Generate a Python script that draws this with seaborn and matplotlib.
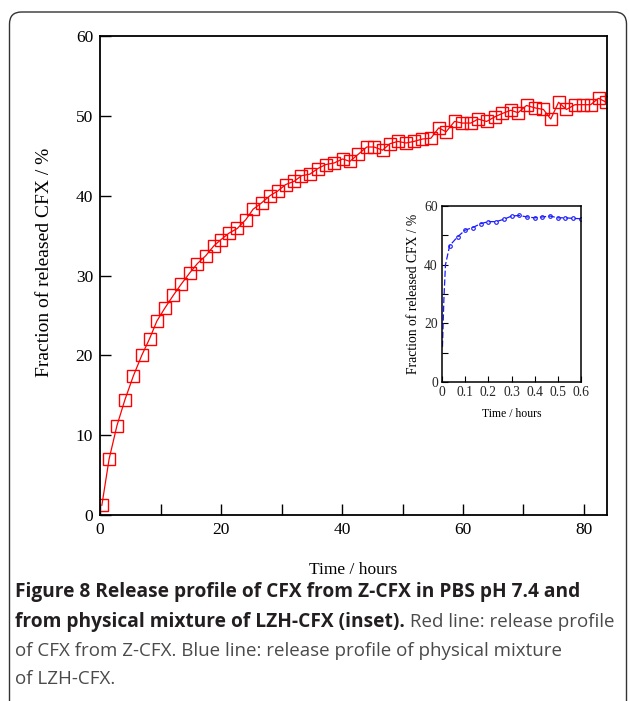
import numpy as np
import pandas as pd
import matplotlib
matplotlib.use("Agg")
import matplotlib.pyplot as plt
from matplotlib.patches import FancyBboxPatch
from matplotlib.ticker import MultipleLocator
import seaborn as sns

# ---- data ----
red_t = [0.3, 1.5, 2.8, 4.1, 5.5, 6.9, 8.2, 9.4, 10.7, 12.1, 13.4, 14.8, 16.1, 17.5,
         18.8, 20.0, 21.3, 22.7, 24.1, 25.3, 26.7, 28.1, 29.4, 30.7, 32.1, 33.3, 34.7,
         36.0, 37.3, 38.7, 40.1, 41.3, 42.7, 44.1, 45.3, 46.7, 47.9, 49.2, 50.6, 51.9,
         53.3, 54.7, 56.0, 57.2, 58.6, 59.9, 61.3, 62.5, 63.9, 65.3, 66.5, 67.9, 69.1,
         70.5, 71.9, 73.3, 74.5, 75.8, 77.1, 78.5, 79.9, 81.1, 82.4, 83.7]
red_v = [1.2, 7.0, 11.2, 14.4, 17.4, 20.0, 22.1, 24.3, 25.9, 27.5, 28.9, 30.3, 31.5, 32.5,
         33.7, 34.5, 35.3, 35.9, 37.0, 38.3, 39.1, 40.0, 40.6, 41.4, 41.8, 42.5, 42.7,
         43.4, 43.9, 44.1, 44.6, 44.3, 45.2, 46.1, 46.1, 45.7, 46.5, 46.8, 46.6, 46.8,
         47.1, 47.2, 48.5, 48.0, 49.3, 49.1, 49.1, 49.6, 49.3, 49.9, 50.3, 50.7, 50.4,
         51.3, 51.0, 50.8, 49.6, 51.7, 50.8, 51.4, 51.4, 51.4, 52.2, 51.7]

blue_t = [0.002, 0.008, 0.015, 0.033, 0.067, 0.100, 0.133, 0.167, 0.200, 0.233, 0.267,
          0.300, 0.333, 0.367, 0.400, 0.433, 0.467, 0.500, 0.533, 0.567, 0.600]
blue_v = [12.0, 28.0, 40.0, 46.5, 49.5, 51.8, 52.7, 54.0, 54.7, 54.7, 55.5,
          56.6, 56.8, 56.3, 56.0, 56.3, 56.6, 56.0, 56.0, 55.8, 55.7]

main_xticks = [0, 20, 40, 60, 80]
main_yticks = [0, 10, 20, 30, 40, 50, 60]
inset_xticks = [0, 0.1, 0.2, 0.3, 0.4, 0.5, 0.6]
inset_xticklabels = ["0", "0.1", "0.2", "0.3", "0.4", "0.5", "0.6"]
inset_yticks = [0, 20, 40, 60]

xlabel = "Time / hours"
ylabel = "Fraction of released CFX / %"
cap_bold1 = "Figure 8 Release profile of CFX from Z-CFX in PBS pH 7.4 and"
cap_bold2 = "from physical mixture of LZH-CFX (inset)."
cap_reg2 = " Red line: release profile"
cap_reg3 = "of CFX from Z-CFX. Blue line: release profile of physical mixture"
cap_reg4 = "of LZH-CFX."

red_df = pd.DataFrame({"t": red_t, "v": red_v})
blue_df = pd.DataFrame({"t": blue_t, "v": blue_v})

sns.set_theme(style="ticks")
plt.rcParams["font.family"] = ["Liberation Serif", "DejaVu Serif"]

fig = plt.figure(figsize=(6.29, 7.01), dpi=100)

# ---- main axes ----
ax = fig.add_axes([0.159, 0.2653, 0.806, 0.6833])
sns.lineplot(data=red_df, x="t", y="v", ax=ax, color="#ff0000", linewidth=0.9,
             marker="s", markersize=8.3, markerfacecolor="none",
             markeredgecolor="#ff0000", markeredgewidth=1.0, sort=False)
ax.set_xlim(0, 83.8)
ax.set_ylim(0, 60)
ax.set_xticks(main_xticks)
ax.set_yticks(main_yticks)
ax.xaxis.set_minor_locator(MultipleLocator(10))
ax.tick_params(axis="both", which="both", direction="in", top=False, right=False,
               color="black", width=1.0)
ax.tick_params(axis="both", which="major", length=8, labelsize=12.5, pad=5)
ax.tick_params(axis="x", which="minor", length=8)
for s in ax.spines.values():
    s.set_linewidth(1.3)
    s.set_color("black")
ax.set_xlabel(xlabel, fontsize=12.5, color="black")
ax.set_ylabel(ylabel, fontsize=14, color="black")
ax.xaxis.set_label_coords(0.5, -0.098)
ax.yaxis.set_label_coords(-0.092, 0.528)
for lab in ax.get_xticklabels() + ax.get_yticklabels():
    lab.set_color("black")

# ---- inset ----
ins = fig.add_axes([0.7027, 0.455, 0.221, 0.251])
sns.lineplot(data=blue_df, x="t", y="v", ax=ins, color="#1a1aff", linewidth=0.9,
             linestyle=(0, (5, 2)), marker="o", markersize=2.6,
             markerfacecolor="none", markeredgecolor="#1a1aff", markeredgewidth=0.8,
             markevery=list(range(3, len(blue_t))), sort=False)
ins.set_xlim(0, 0.6)
ins.set_ylim(0, 60)
ins.set_xticks(inset_xticks)
ins.set_xticklabels(inset_xticklabels)
ins.set_yticks(inset_yticks)
ins.yaxis.set_minor_locator(MultipleLocator(10))
ins.tick_params(axis="both", which="both", direction="in", top=False, right=False,
                color="black", width=0.8)
ins.tick_params(axis="both", which="major", length=4, labelsize=9.8, pad=3)
ins.tick_params(axis="y", which="minor", length=4)
for s in ins.spines.values():
    s.set_linewidth(1.1)
    s.set_color("black")
ins.set_xlabel(xlabel, fontsize=8.5, labelpad=6, color="black")
ins.set_ylabel(ylabel, fontsize=9.8, labelpad=3, color="black")

# ---- rounded frame ----
frame = FancyBboxPatch((9.5, -40), 617, 701 - 12 + 40,
                       boxstyle="round,pad=0,rounding_size=12",
                       transform=None, fill=False, edgecolor="#333333",
                       linewidth=1.0)
fig.patches.append(frame)

# ---- caption ----
cap_font = ["Open Sans", "DejaVu Sans"]
bold_col = "#231f20"
reg_col = "#4a4a4a"
fs_b = 13.8
fs_r = 13.5
fig.text(15 / 629, 1 - 592 / 701, cap_bold1, family=cap_font, fontsize=fs_b,
         fontweight="bold", color=bold_col, va="center", ha="left")
t2 = fig.text(15 / 629, 1 - 622 / 701, cap_bold2, family=cap_font, fontsize=fs_b,
              fontweight="bold", color=bold_col, va="center", ha="left")
fig.canvas.draw()
bb = t2.get_window_extent(renderer=fig.canvas.get_renderer())
fig.text(bb.x1 / fig.bbox.width, 1 - 622 / 701, cap_reg2, family=cap_font,
         fontsize=fs_r, color=reg_col, va="center", ha="left")
fig.text(15 / 629, 1 - 651 / 701, cap_reg3, family=cap_font, fontsize=fs_r,
         color=reg_col, va="center", ha="left")
fig.text(15 / 629, 1 - 679 / 701, cap_reg4, family=cap_font, fontsize=fs_r,
         color=reg_col, va="center", ha="left")

fig.savefig("out.png", dpi=100)
